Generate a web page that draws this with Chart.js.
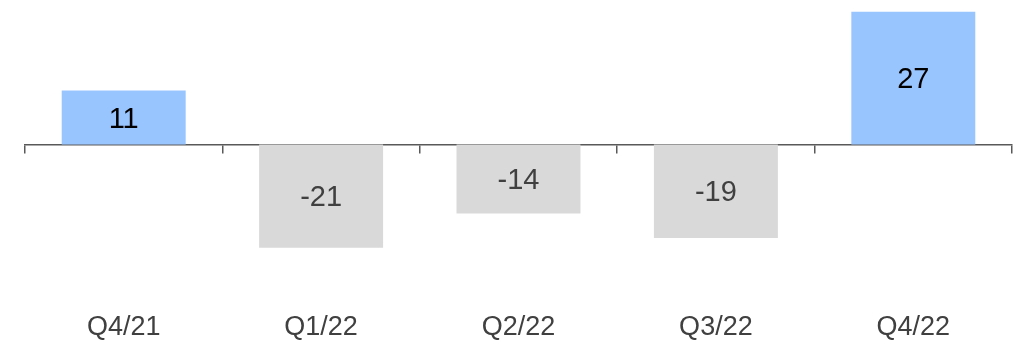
<!DOCTYPE html>
<html>
<head>
<meta charset="utf-8">
<script src="https://cdn.jsdelivr.net/npm/chart.js@4/dist/chart.umd.min.js"></script>
<style>
  html, body { margin: 0; padding: 0; background: #ffffff; }
  #wrap { width: 1013px; height: 340px; }
</style>
</head>
<body>
<div id="wrap"><canvas id="c" width="1013" height="340"></canvas></div>
<script>
// Quarterly change values
const quarters = ['Q4/21', 'Q1/22', 'Q2/22', 'Q3/22', 'Q4/22'];
const changes = [11, -21, -14, -19, 27];

const POS_COLOR = '#99c5ff';
const NEG_COLOR = '#d9d9d9';
const POS_TEXT = '#000000';
const NEG_TEXT = '#404040';
const AXIS_COLOR = '#595959';
const FONT = '"Liberation Sans", Arial, sans-serif';

// Writes each value in the middle of its bar
const valueLabels = {
  id: 'valueLabels',
  afterDatasetsDraw(chart) {
    const ctx = chart.ctx;
    const meta = chart.getDatasetMeta(0);
    ctx.save();
    ctx.font = '29px ' + FONT;
    ctx.textAlign = 'center';
    ctx.textBaseline = 'middle';
    meta.data.forEach((bar, i) => {
      const v = changes[i];
      ctx.fillStyle = v >= 0 ? POS_TEXT : NEG_TEXT;
      ctx.fillText(String(v), bar.x, (bar.y + bar.base) / 2 + 2);
    });
    ctx.restore();
  }
};

new Chart(document.getElementById('c'), {
  type: 'bar',
  data: {
    labels: quarters,
    datasets: [{
      data: changes,
      backgroundColor: changes.map(v => v >= 0 ? POS_COLOR : NEG_COLOR),
      borderWidth: 0,
      barPercentage: 0.628,
      categoryPercentage: 1.0
    }]
  },
  options: {
    responsive: false,
    animation: false,
    devicePixelRatio: 1,
    layout: { padding: { left: 25, right: 1, top: 0, bottom: 0 } },
    plugins: { legend: { display: false }, tooltip: { enabled: false } },
    scales: {
      y: {
        display: false,
        min: -31.6,
        max: 29.4
      },
      // zero line with tick marks between categories
      x: {
        position: { y: 0 },
        offset: true,
        border: { display: true, color: AXIS_COLOR, width: 1.5 },
        grid: {
          offset: true,
          drawOnChartArea: false,
          drawTicks: true,
          tickLength: 8,
          color: AXIS_COLOR,
          lineWidth: 1.5
        },
        ticks: { display: false }
      },
      // category names along the bottom
      xLabels: {
        type: 'category',
        position: 'bottom',
        offset: true,
        border: { display: false },
        grid: { display: false, drawTicks: false },
        ticks: {
          color: '#404040',
          font: { family: FONT, size: 27 },
          padding: 11,
          maxRotation: 0
        },
        afterFit(axis) { axis.height = 40; }
      }
    }
  },
  plugins: [valueLabels]
});
</script>
</body>
</html>
